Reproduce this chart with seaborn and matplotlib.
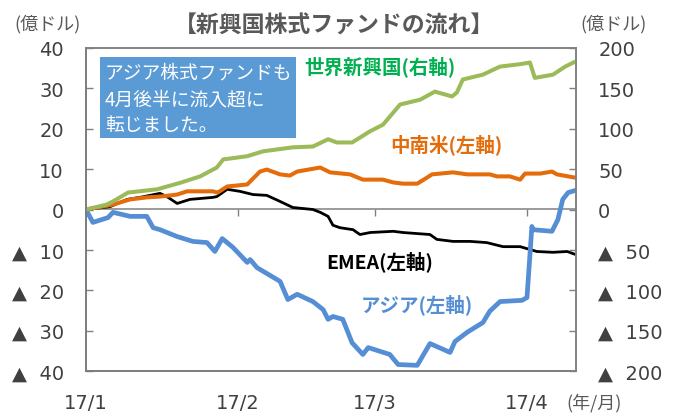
import pandas as pd
import matplotlib
matplotlib.use('Agg')
import matplotlib.pyplot as plt
import matplotlib.dates as mdates
from matplotlib.patches import Rectangle
import seaborn as sns

START = pd.Timestamp('2017-01-01')

# days after 2017-01-01 and cumulative flows (億ドル)
world_days = [0, 4.2, 5.5, 8.6, 14.5, 19.2, 23.3, 26.7, 28.0, 32.9, 36.1, 42.2, 46.3, 49.4,
              51.2, 54.3, 55.9, 58.0, 60.6, 64.1, 68.2, 71.2, 74.7, 75.7, 76.9, 81.0, 84.5,
              88.6, 90.6, 91.6, 95.3, 97.8, 99.8]
world_vals = [0, 6, 10, 21, 25, 33, 41, 52, 62, 66, 72, 77, 78, 87,
              83, 83, 89, 97, 105, 130, 136, 146, 140, 145, 161, 167, 177,
              180, 182, 163, 167, 177, 183]

latam_days = [0, 5.5, 9.0, 12.4, 15.1, 18.6, 20.6, 25.9, 26.9, 28.8, 32.9, 35.5, 36.9, 39.6,
              41.6, 43.1, 47.8, 49.8, 53.9, 56.5, 60.6, 62.7, 64.7, 67.6, 69.6, 70.6, 74.9,
              77.8, 82.4, 83.9, 86.5, 88.6, 89.6, 92.7, 95.1, 96.1, 99.8]
latam_vals = [0, 1.2, 2.5, 3.0, 3.2, 3.7, 4.5, 4.5, 4.2, 5.7, 6.2, 9.4, 9.9, 8.7,
              8.4, 9.4, 10.4, 9.2, 8.7, 7.4, 7.4, 6.7, 6.4, 6.4, 7.9, 8.7, 9.2,
              8.7, 8.7, 8.2, 8.2, 7.4, 8.9, 8.9, 9.4, 8.7, 7.9]

emea_days = [0, 4.9, 8.4, 11.0, 15.1, 16.5, 18.6, 21.2, 25.9, 26.7, 28.8, 31.4, 34.1, 36.9,
             39.6, 42.2, 46.3, 47.8, 49.4, 50.4, 51.8, 54.5, 55.9, 58.0, 62.7, 64.7, 70.2,
             71.6, 74.9, 78.4, 81.8, 85.1, 88.6, 92.0, 95.3, 98.2, 99.8]
emea_vals = [0, 0.7, 2.5, 3.0, 4.0, 3.2, 1.5, 2.5, 3.0, 3.2, 5.0, 4.5, 3.7, 3.5,
             2.0, 0.5, 0.0, -0.7, -1.7, -3.9, -4.5, -5.0, -6.2, -5.7, -5.4, -5.7, -6.2,
             -7.4, -7.9, -7.9, -8.2, -9.2, -9.2, -10.4, -10.6, -10.4, -11.1]

asia_days = [0, 1.4, 4.5, 5.5, 9.0, 12.4, 13.7, 15.1, 18.6, 21.8, 24.7, 26.3, 27.8, 30.0,
             32.9, 33.5, 34.9, 39.6, 41.2, 43.1, 46.3, 48.4, 49.4, 50.4, 52.4, 54.3, 56.5,
             57.6, 62.0, 63.7, 67.6, 70.2, 74.3, 75.3, 77.8, 81.0, 82.4, 84.5, 89.0, 90.0,
             91.0, 91.2, 95.1, 96.3, 97.3, 98.4, 99.8]
asia_vals = [0, -3.2, -2.0, -0.7, -1.7, -1.7, -4.5, -5.0, -6.7, -7.9, -8.2, -10.4, -7.2, -9.4,
             -13.1, -12.4, -14.4, -17.8, -22.3, -21.0, -22.8, -24.8, -27.2, -26.5, -27.2, -33.0, -35.9,
             -34.2, -35.9, -38.4, -38.6, -33.2, -35.4, -32.7, -30.4, -28.0, -25.2, -22.8, -22.5, -21.8,
             -4.2, -5.0, -5.4, -2.5, 2.5, 4.2, 4.7]

month_ticks = ['2017-01-01', '2017-02-01', '2017-03-01', '2017-04-01']
month_labels = ['17/1', '17/2', '17/3', '17/4']
left_ticks = [40, 30, 20, 10, 0, -10, -20, -30, -40]
right_ticks = [200, 150, 100, 50, 0, -50, -100, -150, -200]

JP = ['Noto Sans CJK JP', 'DejaVu Sans']
GREY = '#808080'
LABEL = '#404040'


def to_frame(days, vals):
    return pd.DataFrame({'date': START + pd.to_timedelta(days, unit='D'), 'value': vals})


def tick_text(v):
    # negative numbers are written with a triangle, as in Japanese reports
    return f'▲  {abs(v)}' if v < 0 else f'{v}'


sns.set_theme(style='white')
plt.rcParams['font.family'] = ['DejaVu Sans', 'Noto Sans CJK JP']

fig = plt.figure(figsize=(6.78, 4.14), dpi=100)
ax = fig.add_axes([86 / 678, 42 / 414, 490 / 678, 323 / 414])
ax2 = ax.twinx()

sns.lineplot(data=to_frame(emea_days, emea_vals), x='date', y='value', ax=ax,
             color='black', linewidth=2.0, legend=False)
sns.lineplot(data=to_frame(latam_days, latam_vals), x='date', y='value', ax=ax,
             color='#E46C0A', linewidth=2.9, legend=False)
sns.lineplot(data=to_frame(asia_days, asia_vals), x='date', y='value', ax=ax,
             color='#558ED5', linewidth=3.4, legend=False)
sns.lineplot(data=to_frame(world_days, world_vals), x='date', y='value', ax=ax2,
             color='#9BBB59', linewidth=2.9, legend=False)

ax.set_xlim(START, START + pd.Timedelta(days=100))
ax.set_ylim(-40, 40)
ax2.set_ylim(-200, 200)
ax.set_xlabel('')
ax.set_ylabel('')
ax2.set_ylabel('')

ax.set_yticks(left_ticks)
ax.set_yticklabels([tick_text(v) for v in left_ticks])
ax2.set_yticks(right_ticks)
ax2.set_yticklabels([tick_text(v) for v in right_ticks])
ax.set_xticks(pd.to_datetime(month_ticks))
ax.set_xticklabels(month_labels)

ax.tick_params(axis='y', direction='in', length=5, width=1, color=GREY,
               labelcolor=LABEL, labelsize=14, pad=16, left=True)
ax2.tick_params(axis='y', direction='in', length=5, width=1, color=GREY,
                labelcolor=LABEL, labelsize=14, pad=16, right=True)
ax.tick_params(axis='x', length=0, labelcolor=LABEL, labelsize=14, pad=16)

# zero line with the month tick marks
zero_axis = ax.secondary_xaxis(0.5)
zero_axis.set_xticks(mdates.date2num(pd.to_datetime(month_ticks)))
zero_axis.set_xticklabels([])
zero_axis.tick_params(axis='x', direction='in', length=5, width=1, color=GREY)
for s in zero_axis.spines.values():
    s.set_color(GREY)
    s.set_linewidth(1.1)

for a in (ax, ax2):
    for s in a.spines.values():
        s.set_color(GREY)
        s.set_linewidth(1.1)
ax.spines['left'].set_color('#595959')
ax.spines['bottom'].set_color('#595959')

# titles and unit captions
fig.text(334 / 678, 1 - 26 / 414, '【新興国株式ファンドの流れ】', family=JP, fontsize=16.5,
         fontweight='bold', color='#595959', ha='center', va='center')
fig.text(48 / 678, 1 - 24 / 414, '(億ドル)', family=JP, fontsize=13,
         color='#595959', ha='center', va='center')
fig.text(614 / 678, 1 - 24 / 414, '(億ドル)', family=JP, fontsize=13,
         color='#595959', ha='center', va='center')
fig.text(594 / 678, 1 - 403 / 414, '(年/月)', family=JP, fontsize=13,
         color='#595959', ha='center', va='center')

# series labels
fig.text(380 / 678, 1 - 67 / 414, '世界新興国(右軸)', family=JP, fontsize=14,
         fontweight='bold', color='#00B050', ha='center', va='center')
fig.text(446 / 678, 1 - 145 / 414, '中南米(左軸)', family=JP, fontsize=14,
         fontweight='bold', color='#E46C0A', ha='center', va='center')
fig.text(380 / 678, 1 - 262 / 414, 'EMEA(左軸)', family=JP, fontsize=14,
         fontweight='bold', color='black', ha='center', va='center')
fig.text(417 / 678, 1 - 305 / 414, 'アジア(左軸)', family=JP, fontsize=14,
         fontweight='bold', color='#558ED5', ha='center', va='center')

# comment box
fig.patches.append(Rectangle((100 / 678, 1 - 139 / 414), 196 / 678, 81 / 414,
                             transform=fig.transFigure, facecolor='#5B9BD5',
                             edgecolor='none', zorder=3))
for y, line in zip([73, 100, 126], ['アジア株式ファンドも', '4月後半に流入超に', '転じました。']):
    fig.text(105 / 678, 1 - y / 414, line, family=JP, fontsize=13.5,
             color='white', ha='left', va='center', zorder=4)

fig.savefig('out.png', dpi=100)
